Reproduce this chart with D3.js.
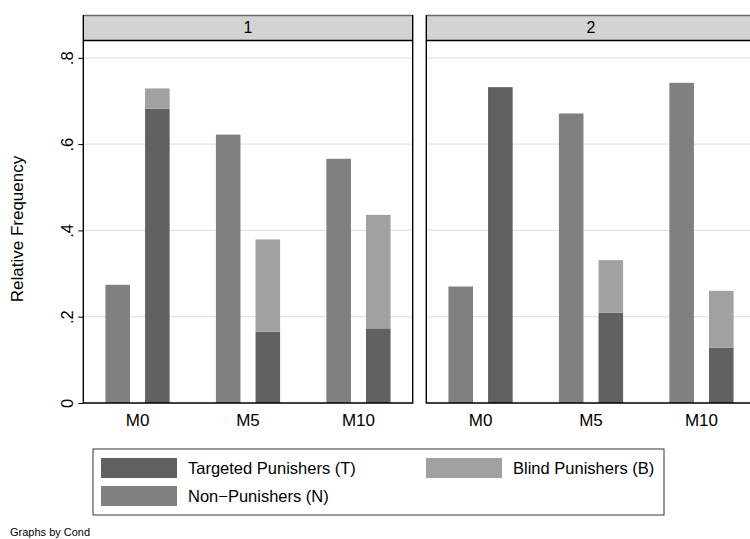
<!DOCTYPE html>
<html>
<head>
<meta charset="utf-8">
<script src="https://cdn.jsdelivr.net/npm/d3@7"></script>
<style>
  body { margin: 0; background: #fff; }
  svg { display: block; font-family: "Liberation Sans", Arial, sans-serif; }
</style>
</head>
<body>
<svg id="chart" width="750" height="539"></svg>
<script>
// ---- data ----
const panels = ["1", "2"];
const categories = ["M0", "M5", "M10"];
const nonPunishers = [[0.274, 0.622, 0.566], [0.270, 0.671, 0.742]];
const targeted     = [[0.682, 0.165, 0.173], [0.732, 0.209, 0.128]];
const blind        = [[0.047, 0.214, 0.263], [0.000, 0.122, 0.132]];
const yTicks = [0, 0.2, 0.4, 0.6, 0.8];
const yTickLabels = ["0", ".2", ".4", ".6", ".8"];
const seriesNames = ["Targeted Punishers (T)", "Blind Punishers (B)", "Non\u2212Punishers (N)"];
const colors = { T: "#616161", B: "#a1a1a1", N: "#808080" };

const svg = d3.select("#chart");

const plotTop = 40.5, plotBottom = 403, stripTop = 15;
const panelLeft = [83.3, 426.3];
const panelW = 329.4;

const y = d3.scaleLinear().domain([0, 0.8]).range([plotBottom, plotBottom - 0.8 * 431.5]);

panels.forEach((p, pi) => {
  const g = svg.append("g").attr("transform", `translate(${panelLeft[pi]},0)`);
  const x = d3.scaleBand().domain(categories).range([-1, panelW + 1]).paddingInner(0).paddingOuter(0);
  const sub = d3.scaleBand().domain(["N", "P"])
    .range([x.bandwidth() / 2 - 32.1, x.bandwidth() / 2 + 32.1]).paddingInner(0.38).paddingOuter(0);

  // gridlines
  g.selectAll("line.grid").data(yTicks.filter(t => t > 0)).enter().append("line")
    .attr("x1", 0).attr("x2", panelW)
    .attr("y1", d => y(d)).attr("y2", d => y(d))
    .attr("stroke", "#e4e4e4").attr("stroke-width", 1.2);

  // bars
  categories.forEach((c, ci) => {
    const gx = x(c);
    const n = nonPunishers[pi][ci], t = targeted[pi][ci], b = blind[pi][ci];
    g.append("rect").attr("x", gx + sub("N")).attr("width", sub.bandwidth())
      .attr("y", y(n)).attr("height", y(0) - y(n)).attr("fill", colors.N);
    g.append("rect").attr("x", gx + sub("P")).attr("width", sub.bandwidth())
      .attr("y", y(t)).attr("height", y(0) - y(t)).attr("fill", colors.T);
    if (b > 0) {
      g.append("rect").attr("x", gx + sub("P")).attr("width", sub.bandwidth())
        .attr("y", y(t + b)).attr("height", y(t) - y(t + b)).attr("fill", colors.B);
    }
  });

  // x axis labels
  const xAxis = d3.axisBottom(x).tickSize(0).tickPadding(11);
  const ax = g.append("g").attr("transform", `translate(0,${plotBottom})`).call(xAxis);
  ax.select(".domain").remove();
  ax.selectAll("text").attr("font-size", 17).attr("fill", "#000")
    .attr("font-family", "Liberation Sans, Arial, sans-serif");

  // strip
  g.append("rect").attr("x", 0).attr("y", stripTop).attr("width", panelW).attr("height", plotTop - stripTop)
    .attr("fill", "#d3d3d3");
  g.append("line").attr("x1", 0).attr("x2", panelW).attr("y1", stripTop + 0.5).attr("y2", stripTop + 0.5)
    .attr("stroke", "#6a6a6a").attr("stroke-width", 1.5);
  g.append("text").attr("x", panelW / 2).attr("y", 33).attr("text-anchor", "middle")
    .attr("font-size", 16).text(p);

  // frame
  g.append("path")
    .attr("d", `M0,${stripTop} V${plotBottom} H${panelW} V${stripTop}`)
    .attr("fill", "none").attr("stroke", "#000").attr("stroke-width", 1.4);
  g.append("line").attr("x1", 0).attr("x2", panelW).attr("y1", plotTop).attr("y2", plotTop)
    .attr("stroke", "#000").attr("stroke-width", 1.4);

  // y axis (only first panel has labels)
  if (pi === 0) {
    const yAxis = d3.axisLeft(y).tickValues(yTicks).tickFormat((d, i) => yTickLabels[i]).tickSize(5).tickPadding(6);
    const ay = g.append("g").call(yAxis);
    ay.select(".domain").remove();
    ay.selectAll("line").attr("stroke", "#000");
    ay.selectAll(".tick text").attr("font-size", 16.5).attr("fill", "#000")
      .attr("font-family", "Liberation Sans, Arial, sans-serif")
      .attr("text-anchor", "middle").attr("x", null).attr("y", null).attr("dy", "0")
      .attr("transform", "translate(-10,0) rotate(-90)");
  }
});

// y axis title
svg.append("text").attr("transform", "translate(23,229) rotate(-90)")
  .attr("text-anchor", "middle").attr("font-size", 17).text("Relative Frequency");

// legend
const lg = svg.append("g");
lg.append("rect").attr("x", 93).attr("y", 449).attr("width", 571).attr("height", 66)
  .attr("fill", "#fff").attr("stroke", "#333").attr("stroke-width", 1);
const legendItems = [
  { name: seriesNames[0], color: colors.T, sx: 101, ty: 458 },
  { name: seriesNames[1], color: colors.B, sx: 426, ty: 458 },
  { name: seriesNames[2], color: colors.N, sx: 101, ty: 486 }
];
legendItems.forEach(it => {
  lg.append("rect").attr("x", it.sx).attr("y", it.ty).attr("width", 76).attr("height", 20).attr("fill", it.color);
  lg.append("text").attr("x", it.sx + 87).attr("y", it.ty + 16).attr("font-size", 16.5).text(it.name);
});

svg.append("text").attr("x", 10).attr("y", 536).attr("font-size", 11).text("Graphs by Cond");
</script>
</body>
</html>
